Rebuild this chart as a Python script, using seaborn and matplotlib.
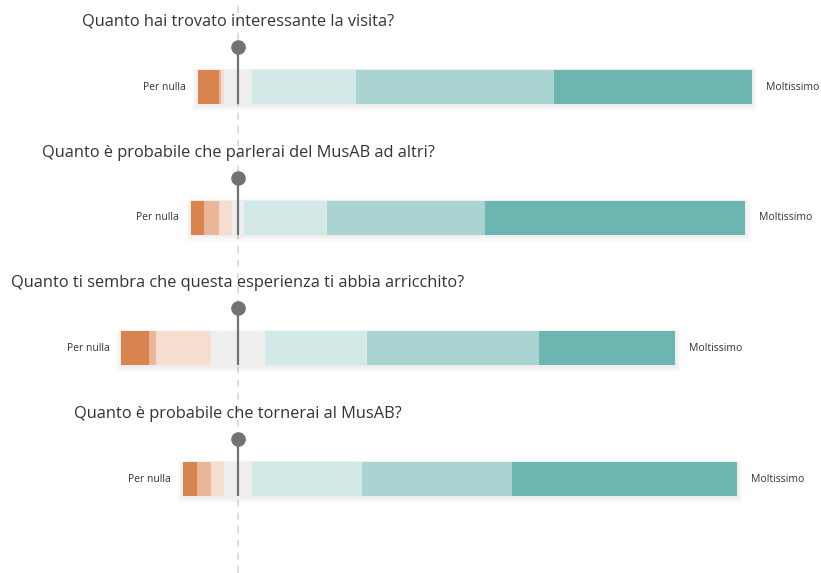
import numpy as np
import pandas as pd
import seaborn as sns
import matplotlib.pyplot as plt

# domande e risposte (percentuali, scala a 7 livelli)
domande = [
    'Quanto hai trovato interessante la visita?',
    'Quanto è probabile che parlerai del MusAB ad altri?',
    'Quanto ti sembra che questa esperienza ti abbia arricchito?',
    'Quanto è probabile che tornerai al MusAB?',
]
livelli = ['1', '2', '3', '4', '5', '6', '7']
neg_1 = [3.8, 2.3, 4.9, 2.5]
neg_2 = [0.4, 2.7, 1.3, 2.5]
neg_3 = [0.5, 2.3, 9.9, 2.5]
neutro = [5.1, 2.3, 9.9, 4.9]
pos_5 = [18.7, 15.0, 18.4, 19.9]
pos_6 = [35.7, 28.5, 30.9, 27.1]
pos_7 = [35.8, 46.9, 24.7, 40.6]
media = [0.0, 0.0, 0.0, 0.0]  # posizione del segnaposto

etichetta_sx = 'Per nulla'
etichetta_dx = 'Moltissimo'

colori = ['#d9834f', '#e9b699', '#f6ddd0', '#efefef', '#d2e9e8', '#a9d4d2', '#6cb5b0']

sns.set_theme(style='white')
plt.rcParams['font.family'] = ['Open Sans', 'DejaVu Sans']

df = pd.DataFrame({'domanda': domande, 'n1': neg_1, 'n2': neg_2, 'n3': neg_3,
                   'neu': neutro, 'p5': pos_5, 'p6': pos_6, 'p7': pos_7})

# lato destro: metà del neutro + positivi (cumulati)
metà = df['neu'] / 2
destra = {
    'p7': metà + df['p5'] + df['p6'] + df['p7'],
    'p6': metà + df['p5'] + df['p6'],
    'p5': metà + df['p5'],
    'neu': metà,
}
sinistra = {
    'n1': -(metà + df['n3'] + df['n2'] + df['n1']),
    'n2': -(metà + df['n3'] + df['n2']),
    'n3': -(metà + df['n3']),
    'neu': -metà,
}
col_map = dict(zip(['n1', 'n2', 'n3', 'neu', 'p5', 'p6', 'p7'], colori))

fig = plt.figure(figsize=(8.21, 5.73), dpi=100)
ax = fig.add_axes([0, 0, 1, 1])

px = 5.54          # pixel per punto percentuale
cx = 238           # pixel della linea centrale
riga = 130.7       # pixel tra le righe
y0 = 87            # pixel centro prima barra
W, H = 821, 573

ax.axvline(0, color='#d6d6d6', lw=1.2, ls=(0, (4, 4)), zorder=0)

h = 34 / riga
# ombra morbida sotto le barre
for k in range(4):
    lo = sinistra['n1'][k]
    hi = destra['p7'][k]
    for s in range(1, 7):
        dx = s * 0.9 / px
        dy = s * 0.9 / riga
        ax.add_patch(plt.Rectangle((lo - dx, k - h / 2 - dy * 0.3), hi - lo + 2 * dx,
                                   h + dy * 1.6, color='#000000', alpha=0.012, lw=0,
                                   zorder=1))

for chiave, valori in list(destra.items()) + list(sinistra.items()):
    sns.barplot(x=valori, y=df['domanda'], orient='h', color=col_map[chiave],
                width=h, saturation=1, edgecolor='none', linewidth=0, ax=ax, zorder=2)

for k, testo in enumerate(domande):
    ax.text(0, k - 65 / riga, testo, ha='center', va='center', fontsize=11.8, color='#333333')
    ax.text(sinistra['n1'][k] - 12 / px, k, etichetta_sx, ha='right', va='center',
            fontsize=7.5, color='#333333')
    ax.text(destra['p7'][k] + 14 / px, k, etichetta_dx, ha='left', va='center',
            fontsize=7.5, color='#333333')
    # segnaposto
    ax.plot([media[k], media[k]], [k - 40 / riga, k + h / 2], color='#727272', lw=1.6,
            solid_capstyle='butt', zorder=4)
    ax.plot(media[k], k - 40 / riga, 'o', ms=9.5, color='#727272', zorder=5)

ax.set_xlim(-cx / px, (W - cx) / px)
ax.set_ylim((H - y0) / riga, -y0 / riga)
ax.set_axis_off()

fig.savefig('out.png', dpi=100)
